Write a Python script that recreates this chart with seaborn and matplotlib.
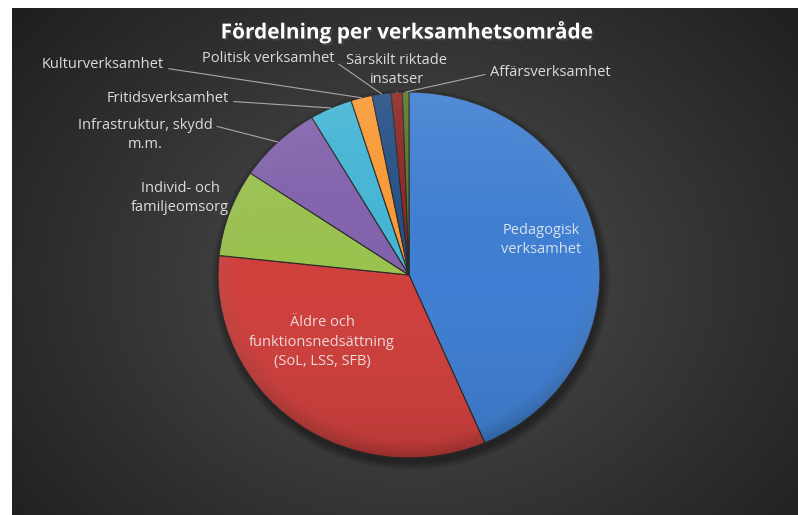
import numpy as np
import matplotlib.pyplot as plt
import matplotlib.patheffects as pe
from matplotlib.patches import Ellipse
import seaborn as sns

# andel per verksamhetsområde (%), medurs från toppen
omraden = ["Pedagogisk verksamhet", "Äldre och funktionsnedsättning (SoL, LSS, SFB)",
           "Individ- och familjeomsorg", "Infrastruktur, skydd m.m.",
           "Fritidsverksamhet", "Kulturverksamhet", "Politisk verksamhet",
           "Särskilt riktade insatser", "Affärsverksamhet"]
andel = [43.5, 33.2, 7.7, 7.1, 3.6, 1.8, 1.6, 0.95, 0.55]
etiketter = ["Pedagogisk\nverksamhet", "Äldre och\nfunktionsnedsättning\n(SoL, LSS, SFB)",
             "Individ- och\nfamiljeomsorg", "Infrastruktur, skydd\nm.m.",
             "Fritidsverksamhet", "Kulturverksamhet", "Politisk verksamhet",
             "Särskilt riktade\ninsatser", "Affärsverksamhet"]
farger = ["#3f7fd3", "#d0403d", "#9bc34f", "#8262ad", "#43b6d6",
          "#fb9a35", "#244f85", "#8e2624", "#5a7a25"]

sns.set_theme(style="dark")
plt.rcParams["font.family"] = ["Open Sans", "DejaVu Sans"]

W, H = 798, 515
fig = plt.figure(figsize=(W / 100, H / 100), dpi=100)
fig.patch.set_facecolor("white")

# mörk radiell bakgrund
bg = fig.add_axes([12 / W, 0, 786 / W, 507 / H])
yy, xx = np.mgrid[0:507, 0:786]
d = np.sqrt(((xx - 400) / 520) ** 2 + ((yy - 270) / 420) ** 2)
g = np.clip(0.31 - 0.19 * d, 0.11, 0.31)
bg.imshow(np.dstack([g, g, g]), aspect="auto", interpolation="bilinear")
bg.set_axis_off()

# tårtan
cx, cy, rx, ry = 409, 275, 191, 183
ax = fig.add_axes([(cx - rx) / W, (H - cy - ry) / H, 2 * rx / W, 2 * ry / H])

# mjuk skugga under tårtan
for k in range(8):
    ax.add_patch(Ellipse((0.01, -0.025), 2.0 + 0.012 * k, 2.0 + 0.012 * k,
                         color="black", alpha=0.05, lw=0, zorder=0, clip_on=False))

wedges, _ = ax.pie(andel, colors=farger, startangle=90, counterclock=False,
                   radius=1, wedgeprops=dict(edgecolor="#2a2a2a", linewidth=0.8))
for w in wedges:
    w.set_clip_on(False)
ax.set_aspect("auto")
ax.set_axis_off()
ax.patch.set_alpha(0)

# ljusare upptill, mörkare nertill och mot kanten
gy, gx = np.mgrid[1:-1:300j, -1:1:300j]
r = np.sqrt(gx ** 2 + gy ** 2)
ljus = np.clip(0.5 + 0.5 * gy, 0, 1)
shade = np.zeros((300, 300, 4))
shade[..., :3] = ljus[..., None]
shade[..., 3] = 0.10 * np.abs(gy) + 0.18 * np.clip((r - 0.9) / 0.1, 0, 1) * (1 - ljus)
im = ax.imshow(shade, extent=(-1, 1, -1, 1), aspect="auto", zorder=5,
               interpolation="bilinear")
im.set_clip_path(Ellipse((0, 0), 2, 2, transform=ax.transData))
ax.set_xlim(-1, 1)
ax.set_ylim(-1, 1)

txt = "#dcdcdc"
linje = "#a8a8a8"


def px(x, y):
    return (x / W, 1 - y / H)


# etiketter inne i tårtan
fig.text(*px(541, 240), etiketter[0], color="#d8e0ee", fontsize=10.5, ha="center",
         va="center", linespacing=1.45)
fig.text(*px(322, 342), etiketter[1], color="#eadada", fontsize=10.5, ha="center",
         va="center", linespacing=1.45)
fig.text(*px(180, 198), etiketter[2], color=txt, fontsize=10.5, ha="center", va="center",
         linespacing=1.45)

# etiketter med hänvisningslinjer: (index, position, relpos)
utanfor = [(3, (145, 135), (1.0, 0.78)),
           (4, (168, 99), (1.0, 0.35)),
           (5, (103, 65), (1.0, 0.3)),
           (6, (268, 58), (1.0, 0.3)),
           (7, (397, 70), (0.5, 0.0)),
           (8, (550, 72), (0.0, 0.4))]
for i, pos, rel in utanfor:
    w = wedges[i]
    mid = np.deg2rad((w.theta1 + w.theta2) / 2)
    ax.annotate(etiketter[i], xy=(np.cos(mid), np.sin(mid)), xycoords="data",
                xytext=px(*pos), textcoords="figure fraction",
                ha="center", va="center", color=txt, fontsize=10.5, linespacing=1.45,
                arrowprops=dict(arrowstyle="-", color=linje, lw=0.8,
                                shrinkA=1, shrinkB=0, relpos=rel))

fig.text(*px(407, 32), "Fördelning per verksamhetsområde", color="white",
         fontsize=15, fontweight="bold", ha="center", va="center",
         path_effects=[pe.withSimplePatchShadow(offset=(1.5, -1.5), alpha=0.6)])

fig.savefig("out.png", dpi=100)
